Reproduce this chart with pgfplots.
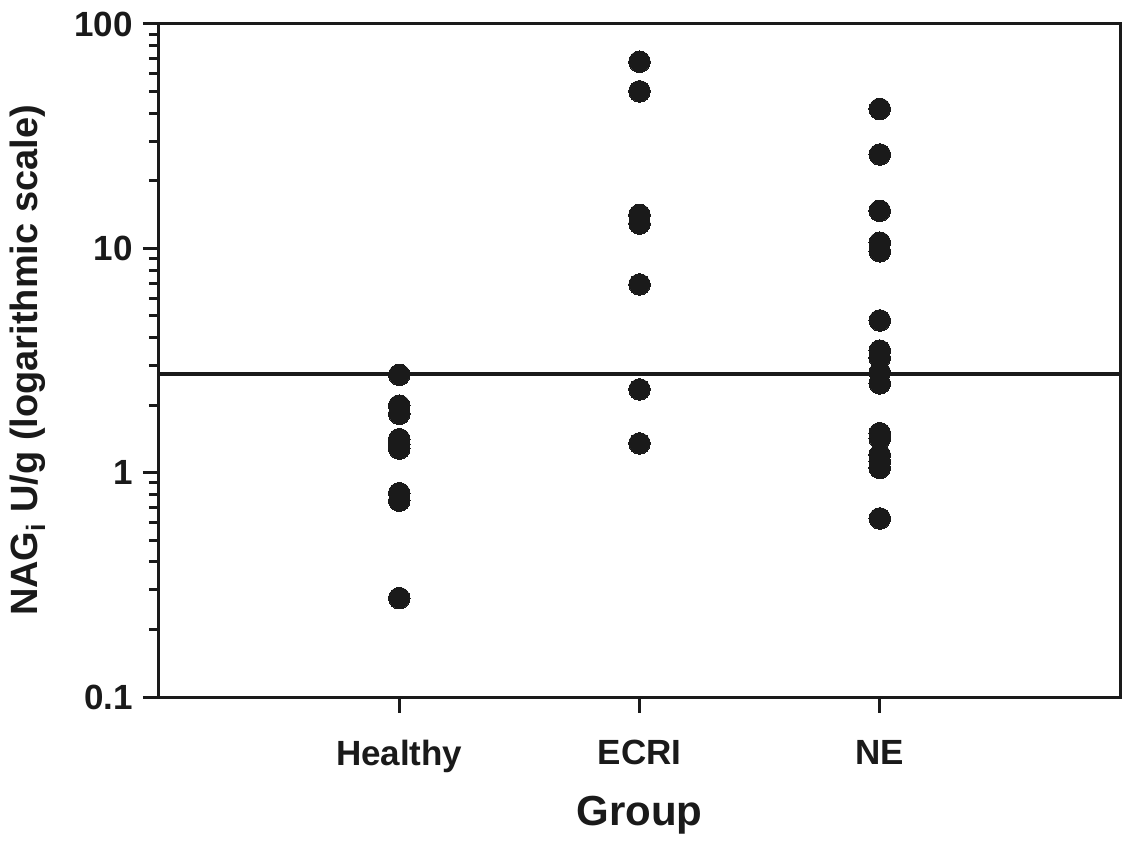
\documentclass[border=0pt]{standalone}
\usepackage{pgfplots}
\pgfplotsset{compat=1.18}
\usepackage{fontspec}
\setmainfont{Liberation Sans}
\definecolor{dotc}{RGB}{26,26,26}
\begin{document}
\begin{tikzpicture}
\begin{axis}[
  name=ax,
  scale only axis, width=480.5pt, height=336.5pt,
  ymode=log, xmin=0, xmax=4, ymin=0.1, ymax=100,
  xtick={1,2,3}, xticklabels={Healthy,ECRI,NE},
  ytick={0.1,1,10,100}, yticklabels={0.1,1,10,100},
  minor xtick={},
  tick align=outside, xtick pos=bottom, ytick pos=left,
  major tick length=8pt, minor tick length=5pt,
  axis line style={line width=1.5pt, dotc},
  tick style={line width=1.5pt, dotc},
  ticklabel style={font=\bfseries\fontsize{17.5}{20}\selectfont, text=dotc},
  xticklabel style={anchor=north, yshift=-10pt},
  yticklabel style={anchor=east, xshift=-1.5pt},
  every axis y label/.style={at={(axis description cs:0,0.5)}, xshift=-65.5pt, rotate=90, anchor=center, font=\bfseries\fontsize{19}{22}\selectfont, text=dotc},
  every axis x label/.style={at={(axis description cs:0.5,0)}, yshift=-59pt, anchor=center, font=\bfseries\fontsize{21}{25}\selectfont, text=dotc},
  ylabel={NAG\textsubscript{i} U/g (logarithmic scale)},
  xlabel={Group},
  clip=false,
]
\addplot[line width=2pt, dotc] coordinates {(0,2.76) (4,2.76)};
\addplot[only marks, mark=*, mark size=5.4pt, dotc, mark options={fill=dotc, draw=dotc, line width=0pt}] coordinates {
  (1,2.73) (1,1.99) (1,1.83) (1,1.41) (1,1.34) (1,1.28) (1,0.81) (1,0.75) (1,0.276)
  (2,67.9) (2,50.1) (2,14.1) (2,12.9) (2,6.9) (2,2.35) (2,1.35)
  (3,41.8) (3,26.2) (3,14.7) (3,10.6) (3,9.7) (3,4.77) (3,3.5) (3,3.25) (3,2.8) (3,2.5) (3,1.5) (3,1.42) (3,1.2) (3,1.12) (3,1.05) (3,0.625)
};
\end{axis}
\pgfresetboundingbox
\path[use as bounding box] ([shift={(-79.5pt,-81pt)}]ax.south west) rectangle ([shift={(1.5pt,12pt)}]ax.north east);
\end{tikzpicture}
\end{document}
